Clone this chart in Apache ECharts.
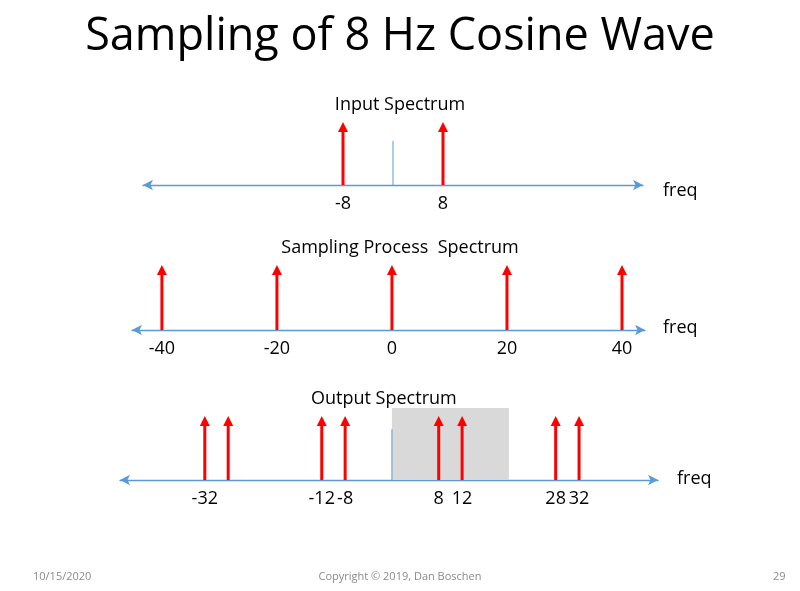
<!DOCTYPE html>
<html><head><meta charset="utf-8">
<script src="https://cdn.jsdelivr.net/npm/echarts@6/dist/echarts.min.js"></script>
<style>html,body{margin:0;background:#fff}#c{width:800px;height:591px}</style>
</head><body><div id="c"></div>
<script>
// impulses per panel (frequency in Hz)
var inputFreqs = [-8, 8];
var samplingFreqs = [-40, -20, 0, 20, 40];
var outputFreqs = [-32, -28, -12, -8, 8, 12, 28, 32];
var inputLabels = [-8, 8];
var samplingLabels = [-40, -20, 0, 20, 40];
var outputLabels = [-32, -28, -12, -8, 8, 12, 28, 32];
var passBand = [0, 20];

var FONT = '"Open Sans", "Liberation Sans", sans-serif';
var AXIS = '#5b9bd5';

function arrowItem(params, api){
	var p0 = api.coord([api.value(0), 0]);
	var p1 = api.coord([api.value(0), api.value(1)]);
	return {type: 'group', children: [
		{type: 'line', shape: {x1: p0[0], y1: p0[1], x2: p1[0], y2: p1[1] + 6}, style: {stroke: api.value(2) ? AXIS : '#ff0000', lineWidth: api.value(2) ? 1 : 3}},
		api.value(2) ? {type: 'group'} :
		{type: 'polygon', shape: {points: [[p1[0], p1[1]], [p1[0] - 5, p1[1] + 10], [p1[0] + 5, p1[1] + 10]]}, style: {fill: '#ff0000'}}
	]};
}

function xAx(idx, min, max, labels){
	return {
		type: 'value', gridIndex: idx, min: min, max: max,
		splitLine: {show: false}, axisTick: {show: false},
		axisLine: {onZero: false, symbol: ['arrow', 'arrow'], symbolSize: [8, 10], lineStyle: {color: AXIS, width: 1.3}},
		axisLabel: {customValues: labels, hideOverlap: false, showMinLabel: true, showMaxLabel: true,
			color: '#000', fontSize: 18, fontFamily: FONT, margin: 10}
	};
}
function yAx(idx){
	return {type: 'value', gridIndex: idx, min: 0, max: 1, show: false};
}
function toData(arr, h){ return arr.map(function(f){ return [f, h, 0]; }); }

var sub = {fontSize: 18, fontWeight: 'normal', color: '#000', fontFamily: FONT};
var foot = {fontSize: 11, fontWeight: 'normal', color: '#8a8a8a', fontFamily: FONT};

var option = {
	animation: false,
	backgroundColor: '#fff',
	title: [
		{text: 'Sampling of 8 Hz Cosine Wave', left: 'center', top: 10, textStyle: {fontSize: 45, fontWeight: 'normal', color: '#000', fontFamily: FONT}},
		{text: 'Input Spectrum', left: 'center', top: 91, textStyle: sub},
		{text: 'Sampling Process  Spectrum', left: 'center', top: 234, textStyle: sub},
		{text: 'Output Spectrum', left: 306, top: 385, textStyle: sub},
		{text: 'freq', left: 658, top: 177, textStyle: sub},
		{text: 'freq', left: 658, top: 314, textStyle: sub},
		{text: 'freq', left: 672, top: 465, textStyle: sub},
		{text: '10/15/2020', left: 28, top: 566, textStyle: foot},
		{text: 'Copyright © 2019, Dan Boschen', left: 'center', top: 566, textStyle: foot},
		{text: '29', left: 768, top: 566, textStyle: foot}
	],
	grid: [
		{left: 143, right: 157, top: 120, bottom: 406},
		{left: 132, right: 155, top: 265, bottom: 261},
		{left: 120, right: 142, top: 408, bottom: 111}
	],
	xAxis: [xAx(0, -40, 40, inputLabels), xAx(1, -45.2, 44, samplingLabels), xAx(2, -46.5, 45.5, outputLabels)],
	yAxis: [yAx(0), yAx(1), yAx(2)],
	series: [
		{type: 'custom', xAxisIndex: 0, yAxisIndex: 0, renderItem: arrowItem,
			data: toData(inputFreqs, 0.97).concat([[0, 0.77, 1]])},
		{type: 'custom', xAxisIndex: 1, yAxisIndex: 1, renderItem: arrowItem,
			data: toData(samplingFreqs, 1)},
		{type: 'custom', xAxisIndex: 2, yAxisIndex: 2, renderItem: arrowItem, z: 3,
			data: toData(outputFreqs, 0.89).concat([[0, 0.79, 1]]),
			markArea: {silent: true, itemStyle: {color: '#d9d9d9'}, data: [[{xAxis: passBand[0], yAxis: 0}, {xAxis: passBand[1], yAxis: 1}]]}}
	]
};
echarts.init(document.getElementById('c')).setOption(option);
</script></body></html>
